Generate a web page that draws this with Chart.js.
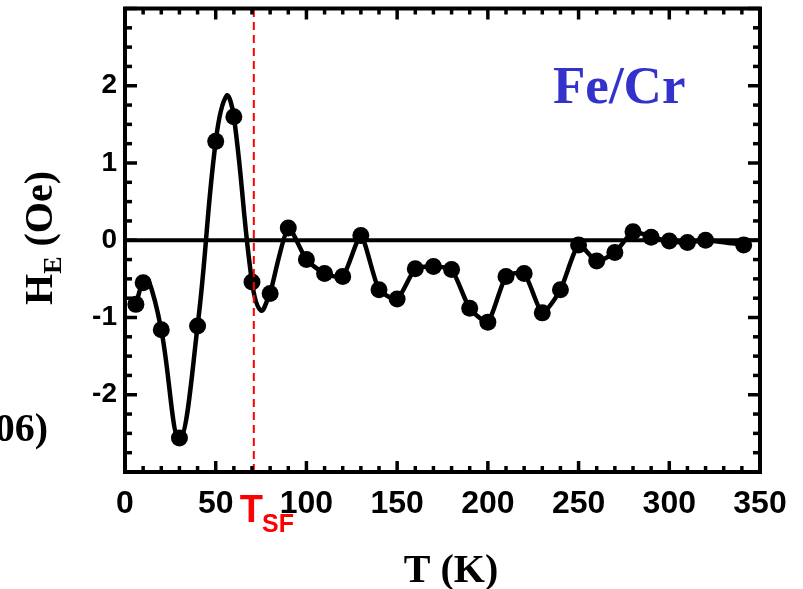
<!DOCTYPE html>
<html>
<head>
<meta charset="utf-8">
<script src="https://cdn.jsdelivr.net/npm/chart.js@4/dist/chart.umd.min.js"></script>
<style>
  html, body { margin: 0; padding: 0; background: #fff; }
  canvas { display: block; }
</style>
</head>
<body>
<canvas id="heChart" width="803" height="589"></canvas>
<script>
// measured exchange bias vs temperature
const tempK = [6, 10, 20, 30, 40, 50, 60, 70, 80, 90, 100, 110, 120, 130, 140, 150, 160, 170,
  180, 190, 200, 210, 220, 230, 240, 250, 260, 270, 280, 290, 300, 310, 320, 341];
const hE = [-0.83, -0.55, -1.16, -2.56, -1.11, 1.28, 1.60, -0.54, -0.69, 0.16, -0.25, -0.43, -0.47, 0.06,
  -0.64, -0.76, -0.37, -0.34, -0.38, -0.88, -1.06, -0.47, -0.43, -0.94, -0.64, -0.06, -0.27, -0.16,
  0.11, 0.04, -0.01, -0.03, 0.0, -0.06];

// smooth guide curve at low T (incl. its turning points)
const fitT = [6, 10, 13, 20, 30, 40, 50, 56, 60, 70, 75, 80];
const fitH = [-0.83, -0.54, -0.52, -1.16, -2.58, -1.11, 1.28, 1.87, 1.60, -0.54, -0.91, -0.69];

const tSF = 71;
const xRange = [0, 350];
const yRange = [-3, 3];

const pts = (xs, ys) => xs.map((v, i) => ({ x: v, y: ys[i] }));
const markers = pts(tempK, hE);
const fitLow = pts(fitT, fitH);
const fitHigh = markers.filter(p => p.x >= 80);

function line(ctx, x1, y1, x2, y2) {
  ctx.beginPath(); ctx.moveTo(x1, y1); ctx.lineTo(x2, y2); ctx.stroke();
}

const overlay = {
  id: 'overlay',
  afterDraw(chart) {
    const { ctx, chartArea: a, scales: { x, y } } = chart;
    ctx.save();
    ctx.strokeStyle = '#000';
    ctx.lineWidth = 3.5;
    for (let v = xRange[0]; v <= xRange[1]; v += 10) {
      const px = x.getPixelForValue(v);
      const len = v % 50 === 0 ? 11 : 6;
      line(ctx, px, a.bottom, px, a.bottom - len);
      line(ctx, px, a.top, px, a.top + len);
    }
    for (let v = yRange[0]; v <= yRange[1]; v += 0.25) {
      const py = y.getPixelForValue(v);
      const len = Number.isInteger(v) ? 12 : 7;
      line(ctx, a.left, py, a.left + len, py);
      line(ctx, a.right, py, a.right - len, py);
    }
    ctx.lineWidth = 4;
    ctx.strokeRect(a.left, a.top, a.right - a.left, a.bottom - a.top);

    ctx.fillStyle = '#000';
    ctx.textBaseline = 'alphabetic';

    // x title
    ctx.font = 'bold 40px "Liberation Serif", "Times New Roman", serif';
    ctx.textAlign = 'center';
    ctx.fillText('T (K)', 451, 582);

    // y title with subscript
    ctx.save();
    ctx.translate(52, 238);
    ctx.rotate(-Math.PI / 2);
    ctx.textAlign = 'left';
    const big = 'bold 40px "Liberation Serif", "Times New Roman", serif';
    const small = 'bold 26px "Liberation Serif", "Times New Roman", serif';
    ctx.font = big; const wH = ctx.measureText('H').width; const wRest = ctx.measureText(' (Oe)').width;
    ctx.font = small; const wE = ctx.measureText('E').width;
    let sx = -(wH + wE + wRest) / 2;
    ctx.font = big; ctx.fillText('H', sx, 0); sx += wH;
    ctx.font = small; ctx.fillText('E', sx, 9); sx += wE;
    ctx.font = big; ctx.fillText(' (Oe)', sx, 0);
    ctx.restore();

    // clipped label from neighbouring panel
    ctx.font = 'bold 40px "Liberation Serif", "Times New Roman", serif';
    ctx.textAlign = 'right';
    ctx.fillText('06)', 48, 441);

    // sample label
    ctx.fillStyle = '#3333cc';
    ctx.font = 'bold 53px "Liberation Serif", "Times New Roman", serif';
    ctx.textAlign = 'left';
    ctx.fillText('Fe/Cr', 553, 103);

    // T_SF marker label
    ctx.fillStyle = '#ff0000';
    ctx.font = 'bold 38px "Liberation Sans", Arial, sans-serif';
    const tx = x.getPixelForValue(tSF) - 14;
    ctx.fillText('T', tx, 522);
    const wT = ctx.measureText('T').width;
    ctx.font = 'bold 25px "Liberation Sans", Arial, sans-serif';
    ctx.fillText('SF', tx + wT - 1, 532);
    ctx.restore();
  }
};

new Chart(document.getElementById('heChart'), {
  type: 'scatter',
  data: {
    datasets: [
      {
        label: 'T_SF',
        type: 'line',
        data: [{ x: tSF, y: yRange[0] }, { x: tSF, y: yRange[1] }],
        borderColor: '#ff0000',
        borderWidth: 2,
        borderDash: [8, 5],
        pointRadius: 0,
        order: -1
      },
      {
        label: 'H_E',
        data: markers,
        backgroundColor: '#000',
        borderColor: '#000',
        pointRadius: 8.5,
        pointBorderWidth: 0,
        order: 0
      },
      {
        label: 'fit low',
        type: 'line',
        data: fitLow,
        borderColor: '#000',
        borderWidth: 4.5,
        pointRadius: 0,
        tension: 0.4,
        order: 1
      },
      {
        label: 'fit high',
        type: 'line',
        data: fitHigh,
        borderColor: '#000',
        borderWidth: 4.5,
        pointRadius: 0,
        tension: 0.2,
        order: 1
      },
      {
        label: 'zero',
        type: 'line',
        data: [{ x: xRange[0], y: 0 }, { x: xRange[1], y: 0 }],
        borderColor: '#000',
        borderWidth: 4,
        pointRadius: 0,
        order: 2
      }
    ]
  },
  options: {
    responsive: false,
    animation: false,
    layout: { padding: { top: 5, right: 43, left: 0, bottom: 0 } },
    plugins: { legend: { display: false }, tooltip: { enabled: false } },
    scales: {
      x: {
        type: 'linear',
        min: xRange[0],
        max: xRange[1],
        grid: { display: false, drawTicks: false },
        border: { display: false },
        ticks: {
          stepSize: 50,
          padding: 13,
          color: '#000',
          font: { family: '"Liberation Sans", Arial, sans-serif', size: 32, weight: 'bold' }
        },
        afterFit(s) { s.height = 117; s.paddingLeft = 0; s.paddingRight = 0; }
      },
      y: {
        min: yRange[0],
        max: yRange[1],
        grid: { display: false, drawTicks: false },
        border: { display: false },
        ticks: {
          stepSize: 1,
          padding: 8,
          color: '#000',
          font: { family: '"Liberation Sans", Arial, sans-serif', size: 28, weight: 'bold' },
          callback: v => (Math.abs(v) === 3 ? '' : v)
        },
        afterFit(s) { s.width = 125; s.paddingTop = 0; s.paddingBottom = 0; }
      }
    }
  },
  plugins: [overlay]
});
</script>
</body>
</html>
